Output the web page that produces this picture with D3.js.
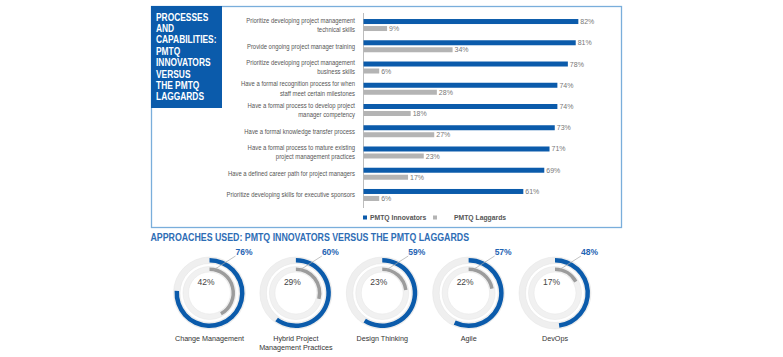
<!DOCTYPE html>
<html><head><meta charset="utf-8">
<script src="https://cdn.jsdelivr.net/npm/d3@7"></script>
<style>
html,body{margin:0;padding:0;background:#fff;}
svg{display:block;}
</style></head>
<body>
<script>
// ---- Data ----
const categories = [
  ["Prioritize developing project management", "technical skills"],
  ["Provide ongoing project manager training"],
  ["Prioritize developing project management", "business skills"],
  ["Have a formal recognition process for when", "staff meet certain milestones"],
  ["Have a formal process to develop project", "manager competency"],
  ["Have a formal knowledge transfer process"],
  ["Have a formal process to mature existing", "project management practices"],
  ["Have a defined career path for project managers"],
  ["Prioritize developing skills for executive sponsors"]
];
const innovatorValues = [82, 81, 78, 74, 74, 73, 71, 69, 61];
const laggardValues   = [9, 34, 6, 28, 18, 27, 23, 17, 6];
const seriesNames = ["PMTQ Innovators", "PMTQ Laggards"];
const titleLines = ["PROCESSES", "AND", "CAPABILITIES:", "PMTQ", "INNOVATORS", "VERSUS", "THE PMTQ", "LAGGARDS"];

const approachTitle = "APPROACHES USED: PMTQ INNOVATORS VERSUS THE PMTQ LAGGARDS";
const approaches = [
  ["Change Management"],
  ["Hybrid Project", "Management Practices"],
  ["Design Thinking"],
  ["Agile"],
  ["DevOps"]
];
const approachInnovators = [76, 60, 59, 57, 48];
const approachLaggards   = [42, 29, 23, 22, 17];

// ---- Styles ----
const BLUE = "#0b5bab", GRAY = "#b4b4b4", BORDER = "#7aaedb";
const SANS = "'Liberation Sans',Arial,sans-serif";
const NARROW_SCALE = 0.8;

const W = 783, H = 357;
const svg = d3.select("body").append("svg").attr("width", W).attr("height", H);

// condensed text helper (no narrow font installed)
function narrowText(sel, x, y, txt, opts) {
  return sel.append("text")
    .attr("transform", `translate(${x},${y}) scale(${NARROW_SCALE},1)`)
    .attr("text-anchor", opts.anchor || "start")
    .attr("font-family", SANS)
    .attr("font-weight", opts.weight || "normal")
    .attr("font-size", opts.size)
    .attr("fill", opts.fill)
    .text(txt);
}

// Outer box
svg.append("rect").attr("x", 151.5).attr("y", 6.5).attr("width", 470).attr("height", 221)
  .attr("fill", "none").attr("stroke", BORDER).attr("stroke-width", 1.3);
// Title box
svg.append("rect").attr("x", 151).attr("y", 6).attr("width", 71).attr("height", 102).attr("fill", BLUE);
const tg = svg.append("g");
titleLines.forEach((t, i) => narrowText(tg, 156, 20.5 + i * 11.4, t, { weight: "bold", size: 10.5, fill: "#fff" }));

// ---- Bar chart ----
const x = d3.scaleLinear().domain([0, 100]).range([363, 625]);
const y = d3.scaleBand().domain(d3.range(categories.length)).range([14.4, 205.6]);
const bh = 5;

svg.append("line").attr("x1", 363.5).attr("x2", 363.5).attr("y1", 13).attr("y2", 208)
  .attr("stroke", "#bdbdbd").attr("stroke-width", 1);

const rows = svg.append("g").selectAll("g").data(categories).join("g")
  .attr("transform", (d, i) => `translate(0,${y(i) + y.bandwidth() / 2})`);

rows.append("rect").attr("x", x(0) + 0.5).attr("y", -6).attr("height", bh)
  .attr("width", (d, i) => x(innovatorValues[i]) - x(0)).attr("fill", BLUE);
rows.append("rect").attr("x", x(0) + 0.5).attr("y", 1).attr("height", bh)
  .attr("width", (d, i) => x(laggardValues[i]) - x(0)).attr("fill", GRAY);

rows.append("text").attr("x", (d, i) => x(innovatorValues[i]) + 2.5).attr("y", -1)
  .attr("font-family", SANS).attr("font-size", 7).attr("fill", "#777")
  .text((d, i) => innovatorValues[i] + "%");
rows.append("text").attr("x", (d, i) => x(laggardValues[i]) + 2.5).attr("y", 6.2)
  .attr("font-family", SANS).attr("font-size", 7).attr("fill", "#777")
  .text((d, i) => laggardValues[i] + "%");

rows.each(function (lines) {
  const g = d3.select(this);
  const n = lines.length;
  lines.forEach((ln, j) => {
    narrowText(g, 355, (j - (n - 1) / 2) * 9.3 + 2.3, ln, { anchor: "end", size: 7.4, fill: "#555" });
  });
});

// Legend
const lg = svg.append("g").attr("transform", "translate(0,218)");
[[363, 370, BLUE, seriesNames[0]], [433, 454, GRAY, seriesNames[1]]].forEach(([sx, tx, c, t]) => {
  lg.append("rect").attr("x", sx).attr("y", -2.5).attr("width", 4).attr("height", 4).attr("fill", c);
  lg.append("text").attr("x", tx).attr("y", 2.4).attr("font-family", SANS).attr("font-weight", "bold")
    .attr("font-size", 6.8).attr("fill", "#555").text(t);
});

// ---- Approaches ----
narrowText(svg, 150.5, 241, approachTitle, { weight: "bold", size: 11, fill: "#2e6db5" });

const cx = d3.scaleLinear().domain([0, approaches.length - 1]).range([209.5, 555]);
const cy = 293;
const tau = 2 * Math.PI;
const pct = d3.scaleLinear().domain([0, 100]).range([0, tau]);

const outerTrack = d3.arc().innerRadius(29.5).outerRadius(36).startAngle(0).endAngle(tau);
const innerTrack = d3.arc().innerRadius(21).outerRadius(26.5).startAngle(0).endAngle(tau);
const outerArc = d3.arc().innerRadius(30.5).outerRadius(35).startAngle(0);
const innerArc = d3.arc().innerRadius(22).outerRadius(25.5).startAngle(0);

const donuts = svg.append("g").selectAll("g").data(approaches).join("g")
  .attr("transform", (d, i) => `translate(${cx(i)},${cy})`);

donuts.append("path").attr("d", outerTrack()).attr("fill", "#efefef").attr("stroke", "#e3e3e3").attr("stroke-width", 0.5);
donuts.append("path").attr("d", innerTrack()).attr("fill", "#f1f1f1").attr("stroke", "#e5e5e5").attr("stroke-width", 0.5);
donuts.append("path").attr("d", (d, i) => outerArc({ endAngle: pct(approachInnovators[i]) })).attr("fill", BLUE);
donuts.append("path").attr("d", (d, i) => innerArc({ endAngle: pct(approachLaggards[i]) })).attr("fill", "#9c9c9c");

donuts.append("line").attr("x1", 4).attr("y1", -23).attr("x2", 26).attr("y2", -37)
  .attr("stroke", "#a8a8a8").attr("stroke-width", 0.7);
donuts.append("text").attr("x", 26).attr("y", -38.5).attr("font-family", SANS).attr("font-weight", "bold")
  .attr("font-size", 8.5).attr("fill", "#1f64b3").text((d, i) => approachInnovators[i] + "%");
donuts.append("text").attr("x", -3.5).attr("y", -8).attr("text-anchor", "middle").attr("font-family", SANS)
  .attr("font-size", 8.5).attr("fill", "#444").text((d, i) => approachLaggards[i] + "%");

donuts.each(function (lines) {
  const g = d3.select(this);
  lines.forEach((ln, j) => {
    g.append("text").attr("x", 0).attr("y", 47.5 + j * 9.5).attr("text-anchor", "middle")
      .attr("font-family", SANS).attr("font-size", 7.2).attr("fill", "#333").text(ln);
  });
});
</script>
</body></html>
